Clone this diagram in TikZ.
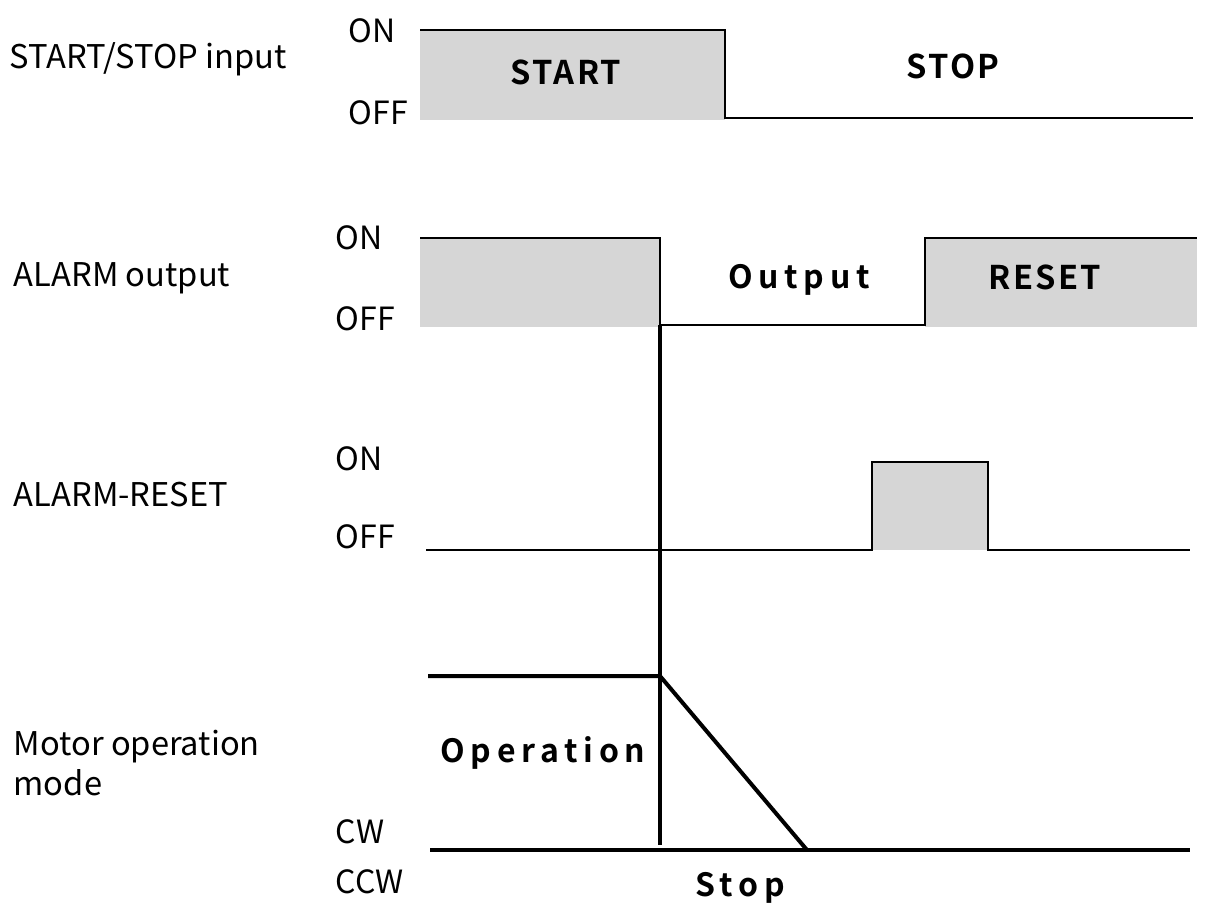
\documentclass[tikz,border=0pt]{standalone}
\usepackage{fontspec}
\setmainfont{Noto Sans CJK SC}[BoldFont={Noto Sans CJK SC Bold}]
\newfontface\spacedbold{Noto Sans CJK SC Bold}[LetterSpace=18]
\newfontface\tagbold{Noto Sans CJK SC Bold}[LetterSpace=7]
\usetikzlibrary{positioning}
\definecolor{sigfill}{RGB}{214,214,214}

\tikzset{
  sig/.style={line width=1.9pt},
  motor/.style={line width=3pt},
  lvl/.style={anchor=base west, font=\fontsize{24}{28}\selectfont},
  rowname/.style={anchor=base west, align=left, font=\fontsize{24.5}{30}\selectfont},
  tag/.style={anchor=base, font=\fontsize{24.5}{28}\tagbold},
  stag/.style={anchor=base, font=\fontsize{24}{28}\spacedbold},
}

\begin{document}
\begin{tikzpicture}[x=0.75pt, y=-0.75pt]
            \useasboundingbox (0,0) rectangle (1206,904);

            % row names
            \node[rowname] (startstop) at (5, 68) {START/STOP input};
            \node[rowname] (alarmout) at (9, 286) {ALARM output};
            \node[rowname] (alarmreset) at (9, 506) {ALARM-RESET};
            \node[rowname, anchor=north west] (motormode) at (9, 725) {Motor operation\\mode};

            % levels
            \node[lvl] (on1) at (344, 42) {ON};
            \node[lvl] (off1) at (344, 124) {OFF};
            \node[lvl] (on2) at (331, 249) {ON};
            \node[lvl] (off2) at (331, 330) {OFF};
            \node[lvl] (on3) at (331, 470) {ON};
            \node[lvl] (off3) at (331, 548) {OFF};
            \node[lvl] (cw) at (331, 843) {CW};
            \node[lvl] (ccw) at (331, 893) {CCW};

            % START/STOP input
            \fill[sigfill] (420,30) rectangle (725,120);
            \draw[sig] (420,30) -- (725,30) -- (725,118) -- (1193,118);
            \node[tag] (start) at (566, 84) {START};
            \node[tag] (stop) at (953, 78) {STOP};

            % ALARM output
            \fill[sigfill] (420,238) rectangle (660,327);
            \fill[sigfill] (925,238) rectangle (1197,327);
            \draw[sig] (420,238) -- (660,238) -- (660,325) -- (925,325) -- (925,238) -- (1197,238);
            \node[stag] (output) at (799, 288) {Output};
            \node[tag] (reset) at (1045, 289) {RESET};

            % ALARM-RESET
            \fill[sigfill] (872,462) rectangle (988,550);
            \draw[sig] (426,550) -- (872,550) -- (872,462) -- (988,462) -- (988,550) -- (1190,550);

            % motor
            \coordinate (trip) at (660,676);
            \coordinate (halt) at (807,850);
            \draw[motor] (660,325) -- (660,845);
            \draw[motor] (428,676) -- (trip) -- (halt);
            \draw[motor] (430,850) -- (1190,850);
            \node[stag] (operation) at (543, 762) {Operation};
            \node[stag] (stopm) at (740, 896) {Stop};
        \end{tikzpicture}
\end{document}
